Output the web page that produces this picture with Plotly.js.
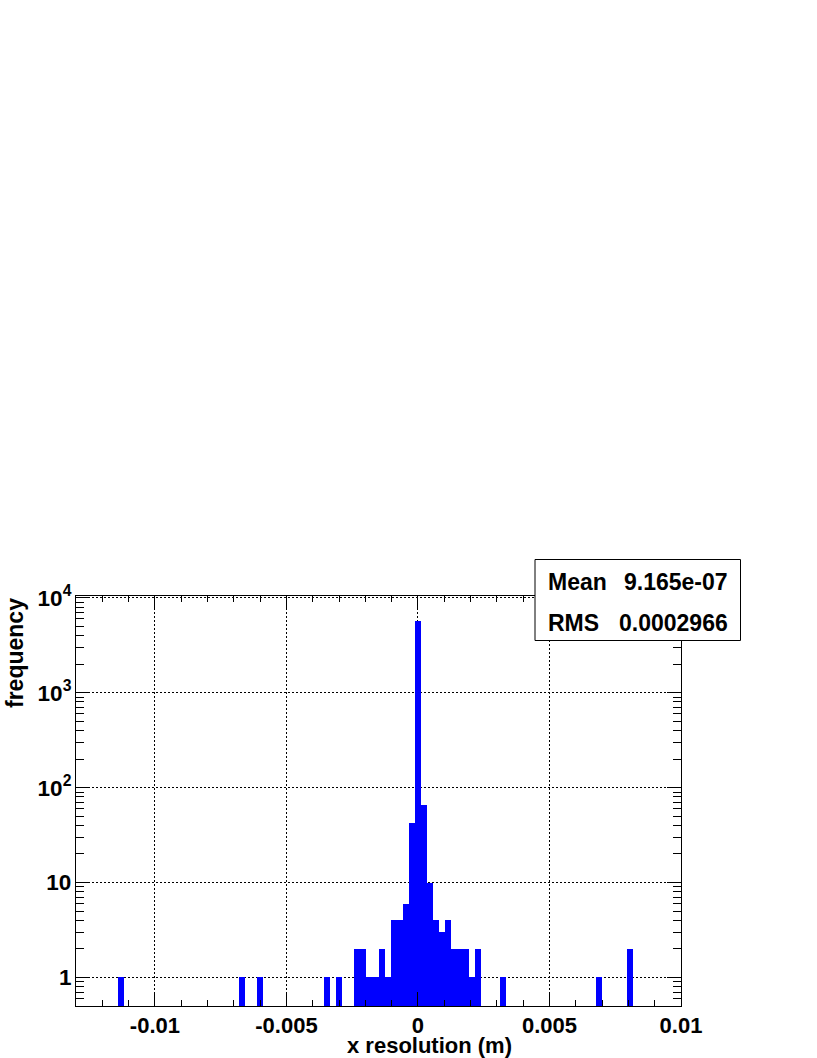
<!DOCTYPE html>
<html><head><meta charset="utf-8">
<script src="https://cdn.plot.ly/plotly-3.0.1.min.js"></script>
<style>body{margin:0;padding:0;background:#fff}#chart{width:817px;height:1058px}</style>
</head><body><div id="chart"></div>
<script>
// Histogram bins (centers, counts); empty bins omitted
const binCenters = [-0.011275, -0.006675, -0.006015, -0.003455, -0.002995,
  -0.002305, -0.002075, -0.001845, -0.001615, -0.001385, -0.001155,
  -0.000925, -0.000695, -0.000465, -0.000235, -0.000005, 0.000225,
  0.000455, 0.000685, 0.000915, 0.001145, 0.001375, 0.001605, 0.001835,
  0.002065, 0.002295, 0.003215, 0.006895, 0.008045];
const binCounts = [1, 1, 1, 1, 1,
  2, 2, 1, 1, 2, 1,
  4, 4, 6, 42, 5700, 66,
  10, 4, 3, 4, 2, 2, 2,
  1, 2, 1, 1, 2];
const binWidth = 0.00023;
const xRange = [-0.013, 0.01];
const yRangeLog = [-0.301, 4.02];
const xTickVals = [-0.01, -0.005, 0, 0.005, 0.01];
const xTickText = ['-0.01', '-0.005', '0', '0.005', '0.01'];
const statNames = ['Mean', 'RMS'];
const statValues = ['9.165e-07', '0.0002966'];
const xTitle = 'x resolution (m)';
const yTitle = 'frequency';

const FONT = 'Liberation Sans, Arial, Helvetica, sans-serif';
const L = 76, R = 681, T = 596, B = 1006;
const pw = R - L, ph = B - T;
const px = v => (v - L) / pw;
const py = v => (B - v) / ph;

const trace = {
  type: 'bar', x: binCenters, y: binCounts, width: binWidth,
  marker: {color: '#0000ff', line: {width: 0}},
  hoverinfo: 'x+y'
};

const annotations = [];
statNames.forEach((n, i) => {
  const yc = i === 0 ? 582 : 623;
  annotations.push({xref: 'paper', yref: 'paper', x: px(546), y: py(yc), xanchor: 'left', yanchor: 'middle',
    text: n, showarrow: false, font: {family: FONT, size: 23, color: '#000', weight: 'bold'}});
  annotations.push({xref: 'paper', yref: 'paper', x: px(730), y: py(yc), xanchor: 'right', yanchor: 'middle',
    text: statValues[i], showarrow: false, font: {family: FONT, size: 23, color: '#000', weight: 'bold'}});
});
annotations.push({xref: 'paper', yref: 'paper', x: px(429), y: py(1045), xanchor: 'center', yanchor: 'middle',
  text: xTitle, showarrow: false, font: {family: FONT, size: 22, color: '#000', weight: 'bold'}});
annotations.push({xref: 'paper', yref: 'paper', x: px(15), y: 1, xanchor: 'center', yanchor: 'top', textangle: -90,
  text: yTitle, showarrow: false, font: {family: FONT, size: 23, color: '#000', weight: 'bold'}});

const layout = {
  width: 817, height: 1058,
  margin: {l: L, r: 817 - R, t: T, b: 1058 - B, pad: 0},
  paper_bgcolor: '#fff', plot_bgcolor: '#fff',
  font: {family: FONT, size: 22, color: '#000', weight: 'bold'},
  showlegend: false, bargap: 0,
  xaxis: {
    range: xRange, tickmode: 'array', tickvals: xTickVals, ticktext: xTickText,
    ticks: 'inside', ticklen: 14, tickwidth: 1, tickcolor: '#000',
    showline: true, linecolor: '#000', linewidth: 1, mirror: 'allticks',
    showgrid: true, gridcolor: '#000', gridwidth: 1, griddash: '2px,2px',
    zeroline: false,
    tickfont: {family: FONT, size: 22, color: '#000', weight: 'bold'},
    minor: {tickmode: 'linear', tick0: 0, dtick: 0.001, ticks: 'inside', ticklen: 6, tickcolor: '#000', tickwidth: 1, showgrid: false}
  },
  yaxis: {
    type: 'log', range: yRangeLog, dtick: 1, exponentformat: 'power',
    ticks: 'inside', ticklen: 14, tickwidth: 1, tickcolor: '#000',
    showline: true, linecolor: '#000', linewidth: 1, mirror: 'allticks',
    showgrid: true, gridcolor: '#000', gridwidth: 1, griddash: '2px,2px',
    zeroline: false,
    tickfont: {family: FONT, size: 18, color: '#000', weight: 'bold'},
    minor: {ticks: 'inside', ticklen: 8, tickcolor: '#000', tickwidth: 1, showgrid: false}
  },
  shapes: [{type: 'rect', xref: 'paper', yref: 'paper', layer: 'above',
    x0: px(535), x1: px(740.5), y0: py(640.5), y1: py(559.5),
    fillcolor: '#fff', line: {color: '#000', width: 1}}],
  annotations: annotations
};

Plotly.newPlot('chart', [trace], layout, {displayModeBar: false, staticPlot: true});
</script></body></html>
